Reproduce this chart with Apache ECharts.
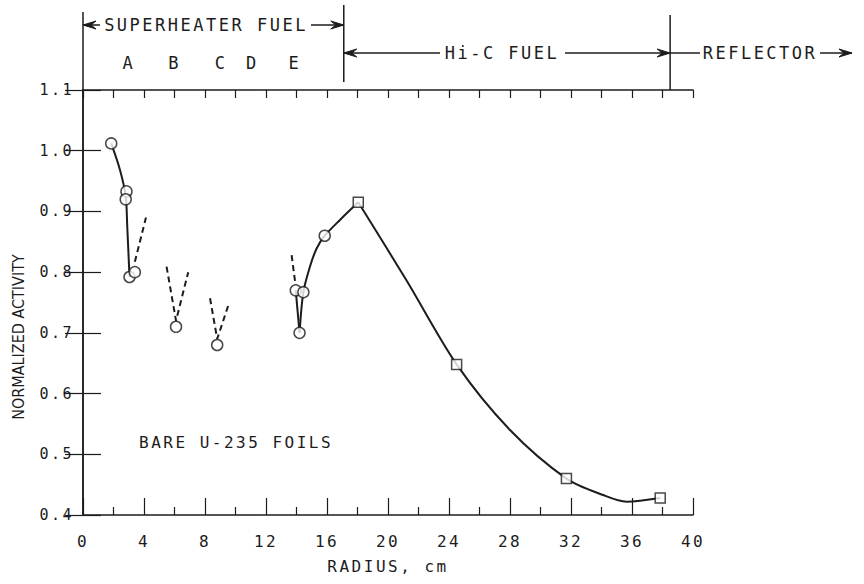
<!DOCTYPE html>
<html>
<head>
<meta charset="utf-8">
<script src="https://cdn.jsdelivr.net/npm/echarts@6/dist/echarts.min.js"></script>
<style>
  html, body { margin: 0; padding: 0; background: #fff; }
  #main { width: 864px; height: 584px; }
  /* the original lettering is widely spaced */
  #main text[style*="Mono"] { letter-spacing: 2.5px; }
</style>
</head>
<body>
<div id="main"></div>
<script>
// measured foils (open circles) and Hi-C points (squares)
var circleR = [1.85, 2.85, 2.8, 3.05, 3.4, 6.1, 8.8, 13.95, 14.45, 14.2, 15.85];
var circleV = [1.012, 0.933, 0.92, 0.792, 0.80, 0.71, 0.68, 0.77, 0.767, 0.70, 0.86];
var squareR = [18.05, 24.5, 31.7, 37.85];
var squareV = [0.915, 0.648, 0.46, 0.428];

// hand drawn solid curves
var curveAR = [1.85, 2.43, 2.8, 2.9, 3.05];
var curveAV = [1.012, 0.968, 0.925, 0.876, 0.792];
var riseR = [14.2, 14.45, 14.88, 15.32, 15.85, 16.85, 18.05];
var riseV = [0.70, 0.767, 0.809, 0.839, 0.86, 0.886, 0.915];
var branchR = [14.2, 13.95];
var branchV = [0.70, 0.77];
var fallR = [18.05, 21.2, 24.5, 28, 31.7, 34.1, 35.65, 37.85];
var fallV = [0.915, 0.787, 0.648, 0.54, 0.46, 0.433, 0.422, 0.428];

// dashed guide strokes
var dashAR = [3.4, 4.13];
var dashAV = [0.817, 0.89];
var dashBR = [5.48, 6.1, 6.9];
var dashBV = [0.809, 0.72, 0.80];
var dashCR = [8.33, 8.8, 9.55];
var dashCV = [0.757, 0.69, 0.747];
var dashER = [13.68, 13.93];
var dashEV = [0.828, 0.78];

// region boundaries and fuel element letters along the top
var zoneEdges = [0, 17.1, 38.5];
var elemNames = ['A', 'B', 'C', 'D', 'E'];
var elemR = [3.0, 6.0, 9.05, 11.1, 13.9];

var ink = '#1c1c1c';
var mono = 'DejaVu Sans Mono';

function pairs(xs, ys) {
  return xs.map(function (x, i) { return [x, ys[i]]; });
}

function curve(xs, ys, dashed, smooth) {
  return {
    type: 'line',
    data: pairs(xs, ys),
    symbol: 'none',
    smooth: smooth || false,
    silent: true,
    z: 2,
    lineStyle: { color: ink, width: 2, type: dashed ? [6, 4] : 'solid' }
  };
}

var chart = echarts.init(document.getElementById('main'), null, { renderer: 'svg' });

var axisLine = { show: true, lineStyle: { color: ink, width: 1.5 } };

chart.setOption({
  backgroundColor: '#fff',
  animation: false,
  grid: { left: 83, right: 171, top: 90, bottom: 69 },
  xAxis: [{
    type: 'value', position: 'bottom', min: 0, max: 40, interval: 4,
    axisLine: axisLine,
    axisTick: { show: true, inside: true, length: 17, lineStyle: { color: ink, width: 1.2 } },
    minorTick: { show: true, splitNumber: 2, length: 8, lineStyle: { color: ink, width: 1.2 } },
    axisLabel: { margin: 18, color: ink, fontFamily: mono, fontSize: 16 },
    splitLine: { show: false },
    name: 'RADIUS, cm', nameLocation: 'middle', nameGap: 43,
    nameTextStyle: { color: ink, fontFamily: mono, fontSize: 16 }
  }, {
    type: 'value', position: 'top', min: 0, max: 40, interval: 2,
    axisLine: axisLine,
    axisTick: { show: true, inside: true, length: 8, lineStyle: { color: ink, width: 1.2 } },
    axisLabel: { show: false },
    splitLine: { show: false }
  }],
  yAxis: [{
    type: 'value', position: 'left', min: 0.4, max: 1.1, interval: 0.1,
    axisLine: axisLine,
    axisTick: { show: true, inside: true, length: 18, lineStyle: { color: ink, width: 1.2 } },
    axisLabel: {
      margin: 9, color: ink, fontFamily: mono, fontSize: 15,
      formatter: function (v) { return v.toFixed(1); }
    },
    splitLine: { show: false }
  }, {
    type: 'value', position: 'right', min: 0.4, max: 1.1, interval: 0.1,
    axisLine: axisLine,
    axisTick: { show: true, inside: true, length: 18, lineStyle: { color: ink, width: 1.2 } },
    axisLabel: { show: false },
    splitLine: { show: false }
  }],
  series: [
    curve(curveAR, curveAV, false, 0.3),
    curve(riseR, riseV, false, 0.3),
    curve(branchR, branchV, false),
    curve(fallR, fallV, false, 0.3),
    curve(dashAR, dashAV, true),
    curve(dashBR, dashBV, true),
    curve(dashCR, dashCV, true),
    curve(dashER, dashEV, true),
    {
      type: 'scatter', data: pairs(circleR, circleV), symbol: 'circle', symbolSize: 11, z: 5,
      itemStyle: { color: '#fff', borderColor: ink, borderWidth: 1.5 }
    },
    {
      type: 'scatter', data: pairs(squareR, squareV), symbol: 'rect', symbolSize: 10, z: 5,
      itemStyle: { color: '#fff', borderColor: ink, borderWidth: 1.5 }
    }
  ]
});

// header with region arrows, placed on the radius scale
function px(r) { return chart.convertToPixel({ xAxisIndex: 0 }, r); }

function seg(x1, y1, x2, y2) {
  return { type: 'line', shape: { x1: x1, y1: y1, x2: x2, y2: y2 }, style: { stroke: ink, lineWidth: 1.5 } };
}
function head(x, y, dir) {
  return {
    type: 'polygon',
    shape: { points: [[x, y], [x - dir * 13, y - 4], [x - dir * 8, y], [x - dir * 13, y + 4]] },
    style: { fill: ink, stroke: ink, lineWidth: 1 }
  };
}
function label(text, x, y, size, align) {
  return {
    type: 'text', x: x, y: y,
    style: { text: text, font: size + 'px "' + mono + '"', fill: ink, align: align || 'center', verticalAlign: 'middle' }
  };
}

var x0 = px(zoneEdges[0]), x1 = px(zoneEdges[1]), x2 = px(zoneEdges[2]);
var g = [
  seg(x0, 12, x0, 90),
  seg(x1, 5, x1, 82),
  seg(x2, 15, x2, 90),
  seg(x0, 25, 100, 25), head(x0, 25, -1),
  seg(311, 25, x1, 25), head(x1, 25, 1),
  label('SUPERHEATER FUEL', 206, 25, 17),
  seg(x1, 53, 440, 53), head(x1, 53, -1),
  seg(565, 53, x2, 53), head(x2, 53, 1),
  label('Hi-C FUEL', 502, 53, 17),
  seg(x2, 53, 700, 53),
  label('REFLECTOR', 760, 53, 17),
  seg(820, 53, 852, 53), head(852, 53, 1),
  label('BARE U-235 FOILS', 139, 442, 16, 'left'),
  {
    type: 'text', x: 18, y: 337, rotation: Math.PI / 2,
    style: { text: 'NORMALIZED ACTIVITY', font: '16px "DejaVu Sans Condensed"', fill: ink, align: 'center', verticalAlign: 'middle' }
  }
];
elemNames.forEach(function (n, i) { g.push(label(n, px(elemR[i]), 63, 17)); });

chart.setOption({ graphic: g });
</script>
</body>
</html>
